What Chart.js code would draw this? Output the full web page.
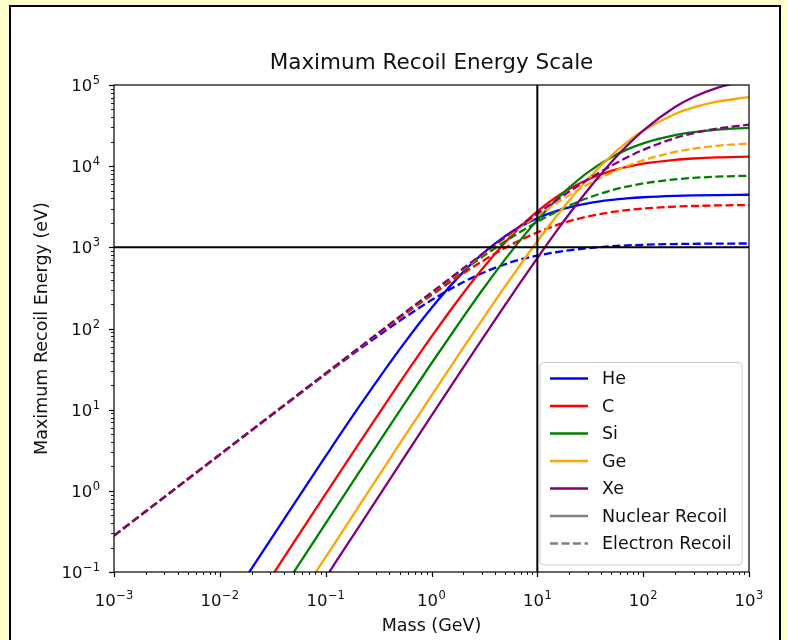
<!DOCTYPE html>
<html>
<head>
<meta charset="utf-8">
<script src="https://cdn.jsdelivr.net/npm/chart.js@4.4.1/dist/chart.umd.min.js"></script>
<style>
  html, body { margin: 0; padding: 0; background: #ffffcc; }
  body { width: 788px; height: 640px; position: relative; overflow: hidden; }
  #frame { position: absolute; left: 9px; top: 5px; width: 772px; height: 660px; box-sizing: border-box; border: 2px solid #000; background: #fff; }
  #wrap { position: absolute; left: 0; top: 0; width: 788px; height: 640px; }
</style>
</head>
<body>
<div id="frame"></div>
<div id="wrap"><canvas id="recoilChart" width="788" height="640"></canvas></div>
<script>
// dark matter mass (GeV)
const masses = [0.001, 0.002, 0.005, 0.01, 0.02, 0.05, 0.1, 0.2, 0.5, 1, 2, 3, 5, 7, 10, 15, 20, 30, 50, 70, 100, 200, 300, 500, 1000];

// max recoil energy (eV)
const heNuclear = [null, null, null, 0.0279, 0.111, 0.683, 2.67, 10.2, 55.3, 179, 498, 823, 1383, 1814, 2286, 2792, 3111, 3488, 3841, 4009, 4142, 4306, 4363, 4409, 4444];
const heElectron = [0.280, 0.560, 1.40, 2.79, 5.57, 13.8, 27.3, 53.3, 124, 224, 373, 480, 622, 713, 790, 870, 920, 975, 1030, 1055, 1075, 1098, 1105, 1111, 1116];
const cNuclear = [null, null, null, 0.00932, 0.0372, 0.231, 0.918, 3.61, 21.5, 79.5, 274, 538, 1163, 1824, 2777, 4148, 5250, 6857, 8741, 9794, 10714, 11962, 12426, 12817, 13123];
const cElectron = [0.280, 0.560, 1.40, 2.80, 5.59, 13.9, 27.8, 55.1, 134, 258, 480, 672, 988, 1238, 1527, 1867, 2100, 2400, 2710, 2868, 3000, 3170, 3231, 3281, 3320];
const siNuclear = [null, null, null, 0.00400, 0.0160, 0.0997, 0.397, 1.58, 9.65, 37.3, 139, 294, 720, 1254, 2172, 3816, 5444, 8390, 12886, 16000, 19141, 24130, 26234, 28122, 29675];
const siElectron = [0.280, 0.560, 1.40, 2.80, 5.60, 14.0, 27.9, 55.6, 138, 270, 523, 759, 1188, 1568, 2063, 2735, 3267, 4055, 5026, 5600, 6125, 6877, 7171, 7424, 7627];
const geNuclear = [null, null, null, 0.00153, 0.00613, 0.0383, 0.153, 0.610, 3.78, 14.9, 58.1, 127, 336, 626, 1187, 2376, 3781, 6936, 13510, 19592, 27318, 43881, 52889, 62255, 71014];
const geElectron = [0.280, 0.560, 1.40, 2.80, 5.60, 14.0, 28.0, 55.8, 139, 276, 545, 807, 1310, 1789, 2463, 3484, 4396, 5953, 8309, 10006, 11815, 14974, 16440, 17836, 19049];
const xeNuclear = [null, null, null, 0.000855, 0.00342, 0.0214, 0.0854, 0.341, 2.12, 8.42, 33.2, 73.5, 198, 378, 738, 1549, 2574, 5094, 11196, 17795, 27496, 53566, 71085, 92124, 114700];
const xeElectron = [0.280, 0.560, 1.40, 2.80, 5.60, 14.0, 28.0, 55.9, 140, 278, 552, 821, 1349, 1861, 2601, 3769, 4858, 6835, 10133, 12774, 15879, 22163, 25531, 29065, 32431];

const elements = ['He', 'C', 'Si', 'Ge', 'Xe'];
const elementColors = ['#0000ff', '#ff0000', '#008000', '#ffa500', '#800080'];
const nuclearSeries = [heNuclear, cNuclear, siNuclear, geNuclear, xeNuclear];
const electronSeries = [heElectron, cElectron, siElectron, geElectron, xeElectron];

// reference cross lines
const refMass = 10;
const refEnergy = 1000;

const xMin = 1e-3, xMax = 1e3;
const yMin = 1e-1, yMax = 1e5;
const xMajor = [1e-3, 1e-2, 1e-1, 1, 10, 100, 1000];
const xTickExps = ['−3', '−2', '−1', '0', '1', '2', '3'];
const yMajor = [1e-1, 1, 10, 100, 1000, 1e4, 1e5];
const yTickExps = ['−1', '0', '1', '2', '3', '4', '5'];

const legendLabels = ['He', 'C', 'Si', 'Ge', 'Xe', 'Nuclear Recoil', 'Electron Recoil'];
const legendColors = ['#0000ff', '#ff0000', '#008000', '#ffa500', '#800080', '#808080', '#808080'];
const legendDashed = [false, false, false, false, false, false, true];

const FONT = 'DejaVu Sans';
const DASH = [8, 3.5];
const LW = 2.3;

const toPoints = (vals) => masses.map((m, i) => ({ x: m, y: vals[i] }));

const datasets = [];
let order = 20;
elements.forEach((el, i) => {
  datasets.push({
    label: el + ' nuclear',
    data: toPoints(nuclearSeries[i]),
    borderColor: elementColors[i],
    borderWidth: LW,
    order: order--,
  });
  datasets.push({
    label: el + ' electron',
    data: toPoints(electronSeries[i]),
    borderColor: elementColors[i],
    borderWidth: LW,
    borderDash: DASH,
    order: order--,
  });
});
datasets.push({
  label: 'vline',
  data: [{ x: refMass, y: yMin }, { x: refMass, y: yMax }],
  borderColor: '#000',
  borderWidth: 2,
  order: 0,
});
datasets.push({
  label: 'hline',
  data: [{ x: xMin, y: refEnergy }, { x: xMax, y: refEnergy }],
  borderColor: '#000',
  borderWidth: 2,
  order: 0,
});

function minorTicks(majors) {
  const out = [];
  for (let i = 0; i < majors.length - 1; i++) {
    for (let k = 2; k <= 9; k++) out.push(majors[i] * k);
  }
  return out;
}

// "10" with a raised exponent, like matplotlib mathtext
function powLabel(ctx, exp, x, baseY, align) {
  const big = '16.5px "' + FONT + '"';
  const small = '11.5px "' + FONT + '"';
  ctx.font = big;
  const wb = ctx.measureText('10').width;
  ctx.font = small;
  const we = ctx.measureText(exp).width;
  const total = wb + we + 0.5;
  const x0 = align === 'right' ? x - total : x - total / 2;
  ctx.textAlign = 'left';
  ctx.textBaseline = 'alphabetic';
  ctx.fillStyle = '#111';
  ctx.font = big;
  ctx.fillText('10', x0, baseY);
  ctx.font = small;
  ctx.fillText(exp, x0 + wb + 0.5, baseY - 7);
}

const axesDecor = {
  id: 'axesDecor',
  afterDatasetsDraw(chart) {
    const { ctx, chartArea: a, scales } = chart;
    ctx.save();
    ctx.strokeStyle = '#000';
    ctx.lineWidth = 1.2;
    ctx.strokeRect(a.left, a.top, a.right - a.left, a.bottom - a.top);

    const tick = (val, len, w, isX) => {
      ctx.lineWidth = w;
      ctx.beginPath();
      if (isX) {
        const px = Math.round(scales.x.getPixelForValue(val)) + 0.5;
        ctx.moveTo(px, a.bottom);
        ctx.lineTo(px, a.bottom + len);
      } else {
        const py = Math.round(scales.y.getPixelForValue(val)) + 0.5;
        ctx.moveTo(a.left, py);
        ctx.lineTo(a.left - len, py);
      }
      ctx.stroke();
    };
    xMajor.forEach(v => tick(v, 5, 1.2, true));
    minorTicks(xMajor).forEach(v => tick(v, 3, 0.9, true));
    yMajor.forEach(v => tick(v, 5, 1.2, false));
    minorTicks(yMajor).forEach(v => tick(v, 3, 0.9, false));

    // tick labels
    xMajor.forEach((v, i) => {
      powLabel(ctx, xTickExps[i], scales.x.getPixelForValue(v), a.bottom + 34, 'center');
    });
    yMajor.forEach((v, i) => {
      powLabel(ctx, yTickExps[i], a.left - 14, scales.y.getPixelForValue(v) + 6, 'right');
    });
    ctx.restore();
  },
  afterDraw(chart) {
    const { ctx, chartArea: a } = chart;
    const rowH = 27.5;
    const boxW = 202;
    const boxH = legendLabels.length * rowH + 10;
    const right = a.right - 7;
    const bottom = a.bottom - 7;
    const left = right - boxW;
    const top = bottom - boxH;
    ctx.save();
    ctx.beginPath();
    ctx.roundRect(left, top, boxW, boxH, 4);
    ctx.fillStyle = 'rgba(255,255,255,0.8)';
    ctx.fill();
    ctx.strokeStyle = '#cccccc';
    ctx.lineWidth = 1;
    ctx.stroke();

    ctx.font = '17.5px "' + FONT + '"';
    ctx.textBaseline = 'middle';
    ctx.textAlign = 'left';
    legendLabels.forEach((lab, i) => {
      const cy = top + 16 + i * rowH;
      ctx.strokeStyle = legendColors[i];
      ctx.lineWidth = LW;
      ctx.setLineDash(legendDashed[i] ? DASH : []);
      ctx.beginPath();
      ctx.moveTo(left + 10, cy);
      ctx.lineTo(left + 48, cy);
      ctx.stroke();
      ctx.setLineDash([]);
      ctx.fillStyle = '#111';
      ctx.fillText(lab, left + 62, cy + 1);
    });
    ctx.restore();
  }
};

const labelFont = { family: FONT, size: 17.5 };

new Chart(document.getElementById('recoilChart'), {
  type: 'line',
  data: { datasets: datasets },
  plugins: [axesDecor],
  options: {
    responsive: false,
    animation: false,
    devicePixelRatio: 1,
    layout: { padding: { left: 27.5, right: 39, top: 0, bottom: 0 } },
    elements: {
      point: { radius: 0, hoverRadius: 0 },
      line: { cubicInterpolationMode: 'monotone', borderCapStyle: 'butt' }
    },
    plugins: {
      legend: { display: false },
      tooltip: { enabled: false },
      title: {
        display: true,
        fullSize: false,
        text: 'Maximum Recoil Energy Scale',
        color: '#111',
        font: { family: FONT, size: 21.5, weight: 'normal' },
        padding: { top: 51, bottom: 8.2 }
      }
    },
    scales: {
      x: {
        type: 'logarithmic',
        min: xMin,
        max: xMax,
        afterBuildTicks: (s) => { s.ticks = xMajor.map(v => ({ value: v })); },
        afterFit: (s) => { s.height = 68; },
        grid: { display: false, drawTicks: false },
        border: { display: false },
        ticks: { display: false },
        title: {
          display: true,
          text: 'Mass (GeV)',
          color: '#111',
          font: labelFont,
          padding: { top: 4, bottom: 3 }
        }
      },
      y: {
        type: 'logarithmic',
        min: yMin,
        max: yMax,
        afterBuildTicks: (s) => { s.ticks = yMajor.map(v => ({ value: v })); },
        afterFit: (s) => { s.width = 86.5; },
        grid: { display: false, drawTicks: false },
        border: { display: false },
        ticks: { display: false },
        title: {
          display: true,
          text: 'Maximum Recoil Energy (eV)',
          color: '#111',
          font: labelFont,
          padding: { top: 4, bottom: 4 }
        }
      }
    }
  }
});
</script>
</body>
</html>
